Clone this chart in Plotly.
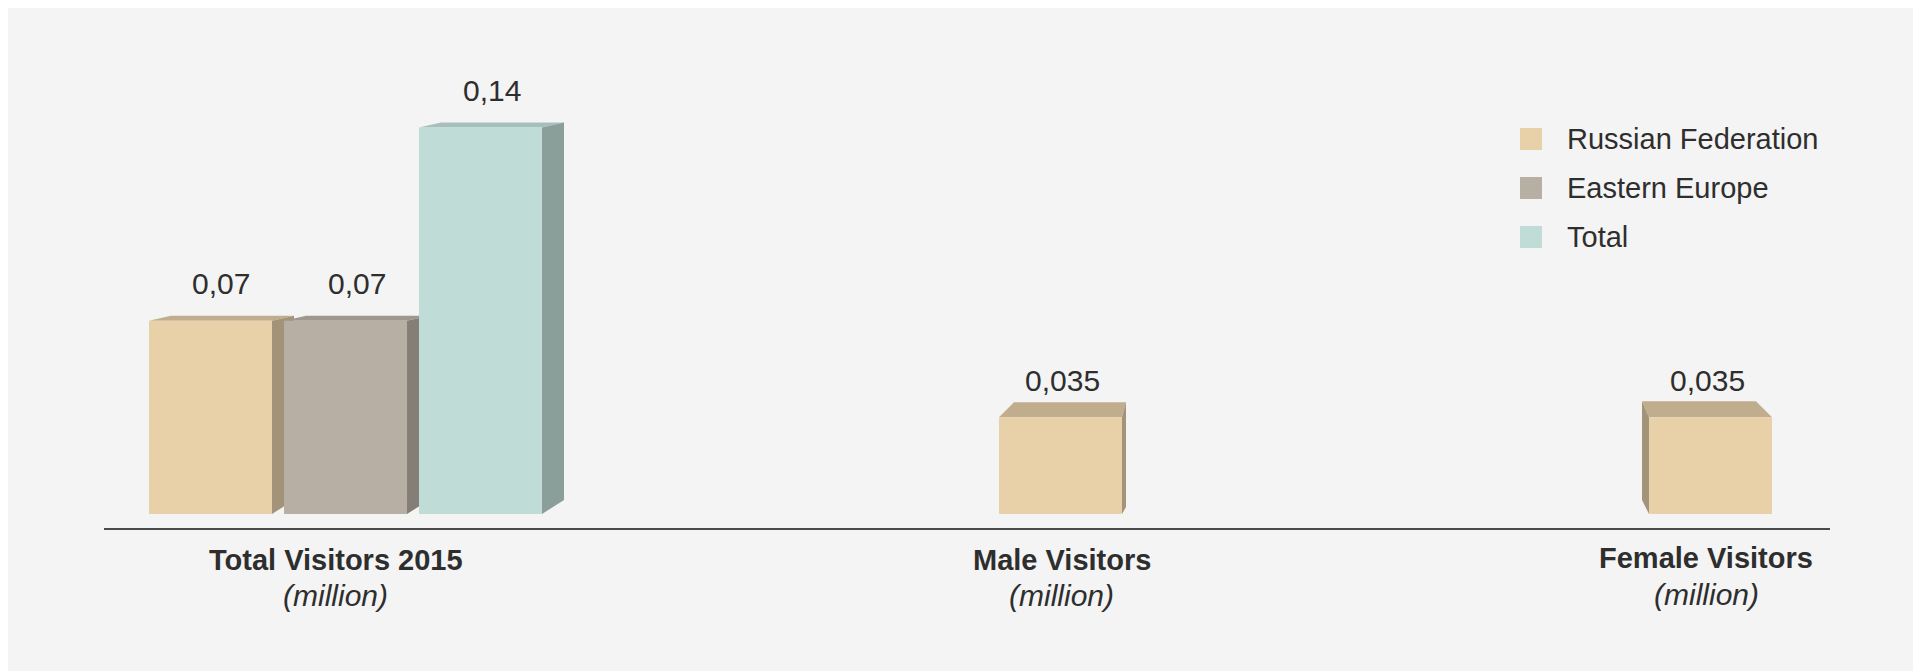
import plotly.graph_objects as go

# ---------------- data ----------------
categories = ["Total Visitors 2015", "Male Visitors", "Female Visitors"]
category_unit = "(million)"
series_names = ["Russian Federation", "Eastern Europe", "Total"]
russian_values = [0.07, 0.035, 0.035]
eastern_values = [0.07]
total_values = [0.14]

# ---------------- styling / layout constants ----------------
FONT = "Liberation Sans"
TXT = "#2e2e2e"
BG = "#F4F4F4"
front_colors = ["#E8D1A9", "#B7AFA4", "#C0DCD7"]
top_colors = ["#C0AD8E", "#9F988E", "#A5BFBA"]
side_colors = ["#A39479", "#847E76", "#8A9E9A"]

W, H = 1913, 663
ML, MR, MT, MB = 96, 91, 52, 143
PW = W - ML - MR
PH = H - MT - MB
K = 2761.0                      # px per y unit
Y_MIN = -14.0 / K
Y_MAX = Y_MIN + PH / K
X_MIN, X_MAX = -0.5, 2.5
UX = PW / (X_MAX - X_MIN)       # px per category unit
BAR_W = 123.0 / UX

# left-edge offsets (category units) per trace and point
russian_offsets = [-0.4218, 0.0556, 0.1854]
eastern_offsets = [-0.1871]
total_offsets = [0.0475]
# 3D face geometry (px): left depth, right depth, rise, side-bottom rise
group_face = (22, 22, 5, 14)
russian_faces = [group_face, (15, 4, 15, 7), (-7, -16, 16, 14)]
eastern_faces = [group_face]
total_faces = [group_face]
label_offsets = [-0.0968, 0.1651, 0.2845]
label_shift = [(-32, -67), (-32, -67), (-30, -66)]

fig = go.Figure()
shapes = []
annotations = []

series = [
    (russian_values, russian_offsets, russian_faces),
    (eastern_values, eastern_offsets, eastern_faces),
    (total_values, total_offsets, total_faces),
]

for si, (vals, offs, faces) in enumerate(series):
    xs = categories[:len(vals)]
    fig.add_trace(go.Bar(
        x=xs, y=vals, name=series_names[si],
        offset=offs, width=BAR_W,
        marker=dict(color=front_colors[si], line=dict(width=0)),
        showlegend=False, hoverinfo="x+y",
    ))
    for i, v in enumerate(vals):
        xl = categories.index(xs[i]) + offs[i]
        xr = xl + BAR_W
        dl, dr, r, rb = faces[i]
        dlu, dru, ru, rbu = dl / UX, dr / UX, r / K, rb / K
        top = (f"M {xl},{v} L {xl + dlu},{v + ru} "
               f"L {xr + dru},{v + ru} L {xr},{v} Z")
        shapes.append(dict(type="path", path=top, xref="x", yref="y",
                           fillcolor=top_colors[si], line=dict(width=0),
                           layer="below"))
        if dr > 0:
            side = (f"M {xr},{v} L {xr + dru},{v + ru} "
                    f"L {xr + dru},{rbu} L {xr},0 Z")
            shapes.append(dict(type="path", path=side, xref="x", yref="y",
                               fillcolor=side_colors[si], line=dict(width=0),
                               layer="below"))
        if dl < 0:
            side = (f"M {xl},{v} L {xl + dlu},{v + ru} "
                    f"L {xl + dlu},{rbu} L {xl},0 Z")
            shapes.append(dict(type="path", path=side, xref="x", yref="y",
                               fillcolor=side_colors[si], line=dict(width=0),
                               layer="below"))
        cx = (min(xl, xl + dlu) + max(xr, xr + dru)) / 2
        annotations.append(dict(
            x=cx, y=v, xref="x", yref="y", yanchor="middle", yshift=37,
            text=f"{v:g}".replace(".", ","), showarrow=False,
            font=dict(family=FONT, size=30, color=TXT)))

# category labels
for ci, cat in enumerate(categories):
    s1, s2 = label_shift[ci]
    annotations.append(dict(
        x=ci + label_offsets[ci], y=0, xref="x", yref="paper",
        yanchor="middle", yshift=s1, showarrow=False,
        text=f"<b>{cat}</b>", font=dict(family=FONT, size=29, color=TXT)))
    annotations.append(dict(
        x=ci + label_offsets[ci], y=0, xref="x", yref="paper",
        yanchor="middle", yshift=s2, showarrow=False,
        text=f"<i>{category_unit}</i>", font=dict(family=FONT, size=30, color=TXT)))

# legend (drawn as squares + text)
def px_x(fx):
    return (fx - ML) / PW

def px_y(fy):
    return (H - MB - fy) / PH

leg_y = [131, 180, 229]
for si, name in enumerate(series_names):
    cy = leg_y[si]
    shapes.append(dict(type="rect", xref="paper", yref="paper",
                       x0=px_x(1512), x1=px_x(1534),
                       y0=px_y(cy + 11), y1=px_y(cy - 11),
                       fillcolor=front_colors[si], line=dict(width=0)))
    annotations.append(dict(
        x=px_x(1557), y=px_y(cy), xref="paper", yref="paper",
        xanchor="left", yanchor="middle", showarrow=False, text=name,
        font=dict(family=FONT, size=29, color=TXT)))

fig.update_layout(
    width=W, height=H,
    margin=dict(l=ML, r=MR, t=MT, b=MB, pad=0),
    paper_bgcolor=BG, plot_bgcolor=BG,
    barmode="overlay",
    shapes=shapes, annotations=annotations,
    xaxis=dict(type="category", categoryorder="array", categoryarray=categories,
               range=[X_MIN, X_MAX], showgrid=False, zeroline=False,
               showticklabels=False, ticks="", showline=True,
               linecolor="#4a4a4a", linewidth=1.5, fixedrange=True),
    yaxis=dict(range=[Y_MIN, Y_MAX], showgrid=False, zeroline=False,
               showticklabels=False, ticks="", showline=False, fixedrange=True),
    showlegend=False,
    font=dict(family=FONT, color=TXT),
)

fig.write_html("out.html")
